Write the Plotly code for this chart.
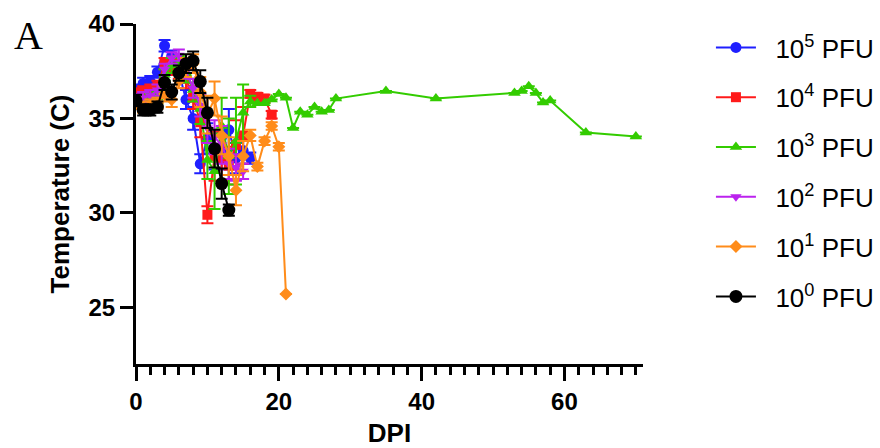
import plotly.graph_objects as go

# ---- data ----
dpi_1e5 = [0, 1, 2, 3, 4, 5, 6, 7, 8, 9, 10, 11, 12, 13, 14, 15, 16]
temp_1e5 = [36.5, 36.85, 36.95, 37.45, 38.85, 38.3, 37.45, 36.0, 35.0, 32.6, 33.95, 33.3, 33.3, 34.4, 32.9, 33.3, 32.9]
err_1e5 = [0.3, 0.3, 0.3, 0.3, 0.3, 0.3, 0.4, 0.5, 0.6, 0.5, 0.8, 1.0, 1.0, 1.1, 0.8, 0.7, 0.3]

dpi_1e4 = [0, 1, 2, 3, 4, 5, 6, 7, 8, 9, 10, 11, 12, 13, 14, 15, 16, 17, 18, 19]
temp_1e4 = [36.3, 36.4, 36.5, 36.7, 37.9, 37.7, 37.5, 37.1, 36.1, 34.8, 29.9, 33.0, 32.9, 32.5, 33.6, 34.1, 36.3, 36.15, 36.05, 35.2]
err_1e4 = [0.3, 0.3, 0.3, 0.3, 0.3, 0.4, 0.4, 0.5, 0.6, 0.8, 0.45, 1.3, 1.2, 1.0, 1.3, 1.5, 0.2, 0.2, 0.2, 0.2]

dpi_1e3 = [0, 1, 2, 3, 4, 5, 6, 7, 8, 9, 10, 11, 12, 13, 14, 15, 16, 17, 18, 19, 20, 21, 22,
           23, 24, 25, 26, 27, 28, 35, 42, 53, 54, 55, 56, 57, 58, 63, 70]
temp_1e3 = [35.9, 35.8, 36.0, 36.1, 37.3, 37.8, 37.9, 37.4, 36.5, 35.5, 32.8, 32.2, 34.6, 33.0, 33.8, 35.3,
            35.9, 35.8, 35.8, 36.0, 36.3, 36.1, 34.5, 35.35, 35.2, 35.6, 35.35, 35.45, 36.05, 36.45,
            36.05, 36.35, 36.45, 36.7, 36.35, 35.85, 35.95, 34.25, 34.05]
err_1e3 = [0.3, 0.3, 0.3, 0.3, 0.3, 0.4, 0.4, 0.5, 0.6, 0.8, 1.0, 2.0, 1.5, 2.0, 2.3, 1.5,
           0.3, 0, 0, 0, 0, 0, 0, 0, 0, 0, 0, 0, 0, 0, 0, 0, 0, 0, 0, 0, 0, 0, 0]

dpi_1e2 = [0, 1, 2, 3, 4, 5, 6, 7, 8, 9, 10, 11, 12, 13, 14, 15]
temp_1e2 = [36.0, 36.1, 36.2, 36.5, 37.6, 38.2, 38.35, 37.5, 36.6, 35.7, 34.5, 34.0, 33.6, 32.6, 32.4, 32.2]
err_1e2 = [0.3, 0.3, 0.3, 0.3, 0.3, 0.3, 0.3, 0.4, 0.5, 0.6, 0.8, 0.9, 1.0, 0.8, 0.7, 0.4]

dpi_1e1 = [0, 1, 2, 3, 4, 5, 6, 7, 8, 9, 10, 11, 12, 13, 14, 15, 16, 17, 18, 19, 20, 21]
temp_1e1 = [35.8, 35.6, 35.7, 35.8, 36.3, 36.0, 37.0, 37.7, 37.9, 36.4, 35.2, 36.05, 34.1, 33.0, 31.2, 33.0,
            34.1, 32.45, 33.8, 34.6, 33.5, 25.7]
err_1e1 = [0.3, 0.3, 0.3, 0.3, 0.4, 0.4, 0.4, 0.5, 0.5, 0.8, 1.0, 0.9, 1.0, 1.0, 0.8, 0.8,
           0.3, 0.2, 0.2, 0.2, 0.2, 0]

dpi_1e0 = [0, 1, 2, 3, 4, 5, 6, 7, 8, 9, 10, 11, 12, 13]
temp_1e0 = [35.95, 35.45, 35.45, 35.6, 36.9, 36.4, 37.4, 37.9, 38.05, 36.95, 35.3, 33.4, 31.55, 30.15]
err_1e0 = [0.3, 0.3, 0.3, 0.3, 0.4, 0.4, 0.4, 0.5, 0.5, 0.6, 0.8, 1.0, 0.8, 0.3]

series = [
    ("&nbsp;&nbsp;10<sup>5</sup> PFU", dpi_1e5, temp_1e5, err_1e5, "#1f1fff", "circle", 11),
    ("&nbsp;&nbsp;10<sup>4</sup> PFU", dpi_1e4, temp_1e4, err_1e4, "#ff1a1a", "square", 10),
    ("&nbsp;&nbsp;10<sup>3</sup> PFU", dpi_1e3, temp_1e3, err_1e3, "#33cc00", "triangle-up", 11),
    ("&nbsp;&nbsp;10<sup>2</sup> PFU", dpi_1e2, temp_1e2, err_1e2, "#bb22ee", "triangle-down", 10),
    ("&nbsp;&nbsp;10<sup>1</sup> PFU", dpi_1e1, temp_1e1, err_1e1, "#ff8c1a", "diamond", 10),
    ("&nbsp;&nbsp;10<sup>0</sup> PFU", dpi_1e0, temp_1e0, err_1e0, "#000000", "circle", 13),
]

fig = go.Figure()
for i, (name, xs, ys, es, color, sym, size) in enumerate(series):
    fig.add_trace(go.Scatter(
        x=xs, y=ys, name=name, mode="lines+markers",
        line=dict(color=color, width=2),
        marker=dict(color=color, symbol=sym, size=size, line=dict(width=0)),
        error_y=dict(type="data", array=es, visible=True, color=color, thickness=2, width=6),
        legendgroup=f"g{i}",
    ))

fig.update_layout(
    width=880, height=448,
    margin=dict(l=136, r=237, t=24, b=84, autoexpand=False),
    paper_bgcolor="white", plot_bgcolor="white",
    font=dict(family="Liberation Sans, Arial, sans-serif", color="black"),
    showlegend=True,
    legend=dict(
        x=1.134, y=1.0, xanchor="left", yanchor="top",
        font=dict(size=26, family="Liberation Sans, Arial, sans-serif", color="black"),
        tracegroupgap=13, itemwidth=40, bgcolor="rgba(0,0,0,0)",
        maxheight=440,
    ),
    xaxis=dict(
        range=[0, 71], showgrid=False, zeroline=False, automargin=False,
        showline=True, linecolor="black", linewidth=3,
        tickmode="array", tickvals=[0, 20, 40, 60],
        ticks="outside", ticklen=14, tickwidth=2.5, tickcolor="black",
        minor=dict(dtick=2, tick0=0, ticks="outside", ticklen=8, tickwidth=2.5, tickcolor="black"),
        tickfont=dict(size=24, weight="bold"),
        title=dict(text="DPI", font=dict(size=26, weight="bold"), standoff=26),
    ),
    yaxis=dict(
        range=[22, 40], showgrid=False, zeroline=False, automargin=False,
        showline=True, linecolor="black", linewidth=3,
        tickmode="array", tickvals=[25, 30, 35, 40],
        ticks="outside", ticklen=13, tickwidth=2.5, tickcolor="black",
        tickfont=dict(size=24, weight="bold"),
        title=dict(text="Temperature (C)", font=dict(size=26, weight="bold"), standoff=12),
    ),
)

fig.add_annotation(
    text="A", xref="paper", yref="paper", x=-0.245, y=1.038,
    xanchor="left", yanchor="top", showarrow=False,
    font=dict(family="Liberation Serif, Times New Roman, serif", size=40, color="black"),
)

fig.write_html("out.html")
